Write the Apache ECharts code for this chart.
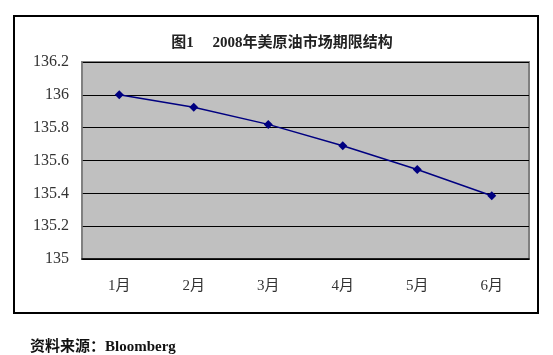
<!DOCTYPE html>
<html>
<head>
    <meta charset="utf-8">
    <title>ECharts</title>
    <script src="https://cdn.jsdelivr.net/npm/echarts@6/dist/echarts.min.js"></script>
</head>
<body style="margin:0;background:#fff;">
<div id="main" style="width: 553px;height:355px;"></div>
<script type="text/javascript">
    // 数据
    var months = ['1月', '2月', '3月', '4月', '5月', '6月'];
    var prices = [136.0, 135.925, 135.82, 135.69, 135.545, 135.385];
    var yMin = 135, yMax = 136.2, yStep = 0.2;

    var serif = '"Liberation Serif", "Noto Sans CJK SC", serif';
    var myChart = echarts.init(document.getElementById('main'));

    var option = {
        animation: false,
        backgroundColor: '#ffffff',
        title: [
            {
                text: '图1\u3000 2008年美原油市场期限结构',
                left: 277,
                top: 31,
                textAlign: 'center',
                textStyle: {fontFamily: serif, fontSize: 15, fontWeight: 'bold', color: '#222'}
            },
            {
                text: '资料来源：Bloomberg',
                left: 25,
                top: 335,
                textStyle: {fontFamily: serif, fontSize: 15, fontWeight: 'bold', color: '#111'}
            }
        ],
        // 外框
        graphic: [{
            type: 'rect',
            shape: {x: 14, y: 16, width: 524, height: 297},
            style: {fill: 'none', stroke: '#000', lineWidth: 2},
            z: -1
        }],
        grid: {
            left: 82, right: 24, top: 62, bottom: 96,
            show: true,
            backgroundColor: '#c0c0c0',
            borderColor: '#808080',
            borderWidth: 2
        },
        xAxis: {
            type: 'category',
            data: months,
            boundaryGap: true,
            axisLine: {lineStyle: {color: '#000', width: 1.5}},
            axisTick: {inside: true, length: 5, lineStyle: {color: '#000'}},
            axisLabel: {margin: 20, fontFamily: serif, fontSize: 15, color: '#333'}
        },
        yAxis: {
            type: 'value',
            min: yMin,
            max: yMax,
            interval: yStep,
            axisLine: {show: true, lineStyle: {color: '#808080', width: 1.5}},
            axisTick: {show: false},
            splitLine: {lineStyle: {color: '#000', width: 1}},
            axisLabel: {margin: 13, fontFamily: serif, fontSize: 16, color: '#333'}
        },
        series: [
            {
                name: '价格',
                type: 'line',
                data: prices,
                symbol: 'diamond',
                symbolSize: 9,
                lineStyle: {color: '#000080', width: 1.5},
                itemStyle: {color: '#000080'}
            }
        ]
    };

    myChart.setOption(option);
</script>
</body>
</html>
